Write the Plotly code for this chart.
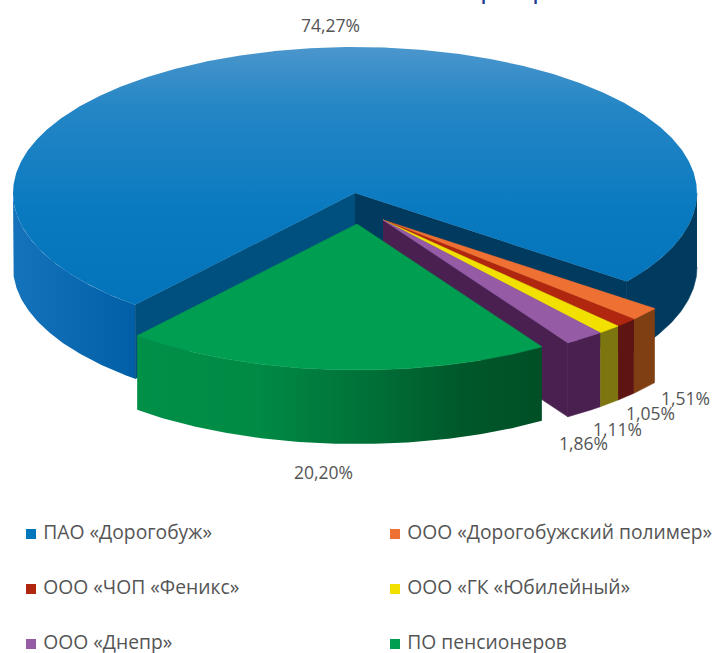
import numpy as np
import plotly.graph_objects as go

# ---- data ----
labels = ["ПАО «Дорогобуж»", "ООО «Дорогобужский полимер»", "ООО «ЧОП «Феникс»",
          "ООО «ГК «Юбилейный»", "ООО «Днепр»", "ПО пенсионеров"]
values = [74.27, 1.51, 1.05, 1.11, 1.86, 20.20]
top_colors = ["#0077BD", "#EE7032", "#B0260F", "#F2E000", "#955BA5", "#009E50"]
wall_colors = ["#003A5E", "#7F3F12", "#5E1410", "#7D7510", "#4A2050", "#006F38"]

# ---- pie geometry (projection of the disc onto the page) ----
START = 130.0
RX, RY, DEPTH = 342.0, 146.0, 74.0
APEX = [(355, 193), (383, 220), (383, 220), (383, 220), (383, 220), (357, 224)]
LABEL_POS = [(330, 25), (685, 398), (650, 413), (617, 429), (583, 443), (323, 472)]
LEGEND_X = [31, 395]
LEGEND_Y = [534, 589, 644]
FONT = "Open Sans"


def arc(apex, t0, t1, dz=0.0):
    t = np.radians(np.linspace(t0, t1, max(int(abs(t1 - t0) * 2), 2)))
    return apex[0] + RX * np.cos(t), apex[1] + RY * np.sin(t) + dz


fig = go.Figure()


def poly(x, y, color=None, grad=None):
    kw = dict(x=list(x), y=list(y), mode="lines", fill="toself",
              hoverinfo="skip", showlegend=False)
    if grad:
        kw["fillgradient"] = grad
        kw["line"] = dict(width=0)
    else:
        kw["fillcolor"] = color
        kw["line"] = dict(width=0.6, color=color)
    fig.add_trace(go.Scatter(**kw))


def wall(apex, t0, t1, color=None, grad=None):
    xa, ya = arc(apex, t0, t1)
    xb, yb = arc(apex, t0, t1, DEPTH)
    poly(np.r_[xa, xb[::-1]], np.r_[ya, yb[::-1]], color, grad)


def cut(apex, t, color):
    xe, ye = arc(apex, t, t + 0.001)
    x = [apex[0], xe[0], xe[0], apex[0]]
    y = [apex[1], ye[0], ye[0] + DEPTH, apex[1] + DEPTH]
    poly(x, y, color)


def top(apex, t0, t1, color=None, grad=None):
    xa, ya = arc(apex, t0, t1)
    poly(np.r_[apex[0], xa, apex[0]], np.r_[apex[1], ya, apex[1]], color, grad)


def grad(kind, start, stop, stops):
    return dict(type=kind, start=start, stop=stop, colorscale=stops)


spans = np.array(values) / sum(values) * 360
edges = START + np.r_[0, np.cumsum(spans)]

# blue: outer walls, cut walls, top
wall(APEX[0], 130, 180, grad=grad("horizontal", 13, 135, [[0, "#1573BC"], [1, "#005FA6"]]))
wall(APEX[0], 360, edges[1], wall_colors[0])
cut(APEX[0], edges[0], "#00507F")
cut(APEX[0], edges[1], wall_colors[0])
top(APEX[0], edges[0], edges[1],
    grad=grad("vertical", 48, 340, [[0, "#4A96CC"], [0.2, "#2586C5"], [0.55, "#0A7AC0"], [1, "#0070B8"]]))

# four small slices, back to front
for i in range(1, 5):
    if i == 4:
        cut(APEX[i], edges[i + 1], wall_colors[i])
    wall(APEX[i], edges[i], edges[i + 1], wall_colors[i])
    top(APEX[i], edges[i], edges[i + 1], top_colors[i])

# green slice
wall(APEX[5], edges[5], edges[6],
     grad=grad("horizontal", 136, 543,
               [[0, "#009048"], [0.3, "#008A44"], [0.57, "#007038"], [0.8, "#00582A"], [1, "#004F26"]]))
top(APEX[5], edges[5], edges[6], top_colors[5])

# legend
for i, lab in enumerate(labels):
    col, row = i % 2, i // 2
    fig.add_trace(go.Scatter(x=[LEGEND_X[col]], y=[LEGEND_Y[row]], mode="markers+text",
                             marker=dict(symbol="square", size=10, color=top_colors[i]),
                             text=[" " + lab], textposition="middle right",
                             textfont=dict(family=FONT, size=19.3, color="#555555"),
                             cliponaxis=False, hoverinfo="skip", showlegend=False))

# value labels
for v, (px, py) in zip(values, LABEL_POS):
    fig.add_annotation(x=px, y=py, text=f"{v:.2f}".replace(".", ",") + "%", showarrow=False,
                       font=dict(family=FONT, size=17.5, color="#555555"))

# the cut-off title at the very top of the picture: only descenders remain
for px in (488, 540):
    fig.add_annotation(x=px, y=0, text="р", showarrow=False, yanchor="top", yshift=35,
                       font=dict(family=FONT, size=28, color="#1F3A93"))

fig.update_layout(width=716, height=653, margin=dict(l=0, r=0, t=0, b=0),
                  paper_bgcolor="white", plot_bgcolor="white",
                  xaxis=dict(range=[0, 716], visible=False, fixedrange=True),
                  yaxis=dict(range=[653, 0], visible=False, fixedrange=True))
fig.write_html("out.html", config={"displayModeBar": False},
               post_script="document.body.style.margin='0';document.documentElement.style.overflow='hidden';")
